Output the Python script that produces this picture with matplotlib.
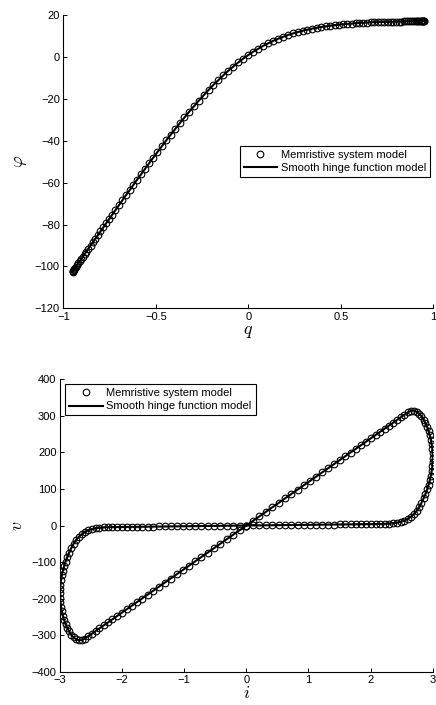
import matplotlib
matplotlib.use('Agg')
import matplotlib.pyplot as plt
import numpy as np

plt.rcParams['font.family'] = ['Liberation Sans', 'DejaVu Sans']
plt.rcParams['mathtext.fontset'] = 'cm'

# ---- flux-charge curve (top) ----
q_neg = [-0.950, -0.949, -0.947, -0.944, -0.940, -0.936, -0.931, -0.925, -0.919, -0.912,
         -0.904, -0.895, -0.885, -0.875, -0.864, -0.853, -0.840, -0.827, -0.813, -0.799,
         -0.784, -0.769, -0.753, -0.736, -0.718, -0.700, -0.681, -0.662, -0.642, -0.622,
         -0.601, -0.580, -0.558, -0.536, -0.514, -0.491, -0.467, -0.443, -0.419, -0.395,
         -0.370, -0.345, -0.319, -0.294, -0.268, -0.242, -0.215, -0.189, -0.162, -0.135,
         -0.108, -0.081, -0.054, -0.027]
phi_neg = [-102.5, -102.4, -102.1, -101.7, -101.2, -100.7, -100.1, -99.3, -98.5, -97.6,
           -96.6, -95.5, -94.2, -92.9, -91.5, -90.1, -88.5, -86.8, -85.1, -83.3,
           -81.4, -79.5, -77.5, -75.4, -73.1, -70.9, -68.5, -66.1, -63.7, -61.2,
           -58.6, -56.1, -53.4, -50.8, -48.1, -45.4, -42.6, -39.8, -37.1, -34.4,
           -31.6, -28.9, -26.1, -23.6, -20.9, -18.4, -15.8, -13.4, -11.1, -8.8,
           -6.6, -4.6, -2.6, -0.8]
q_pos = [0.000, 0.027, 0.054, 0.081, 0.108, 0.135, 0.162, 0.189, 0.215, 0.242,
         0.268, 0.294, 0.319, 0.345, 0.370, 0.395, 0.419, 0.443, 0.467, 0.491,
         0.514, 0.536, 0.558, 0.580, 0.601, 0.622, 0.642, 0.662, 0.681, 0.700,
         0.718, 0.736, 0.753, 0.769, 0.784, 0.799, 0.813, 0.827, 0.840, 0.853,
         0.864, 0.875, 0.885, 0.895, 0.904, 0.912, 0.919, 0.925, 0.931, 0.936,
         0.940, 0.944, 0.947, 0.949, 0.950]
phi_pos = [0.9, 2.5, 3.9, 5.3, 6.5, 7.7, 8.7, 9.6, 10.5, 11.2,
           11.9, 12.5, 13.0, 13.5, 13.9, 14.3, 14.6, 14.9, 15.2, 15.4,
           15.6, 15.8, 15.9, 16.1, 16.2, 16.3, 16.4, 16.5, 16.6, 16.6,
           16.7, 16.7, 16.8, 16.8, 16.8, 16.9, 16.9, 16.9, 17.0, 17.0,
           17.0, 17.0, 17.0, 17.0, 17.1, 17.1, 17.1, 17.1, 17.1, 17.1,
           17.1, 17.1, 17.1, 17.1, 17.1]

# ---- pinched hysteresis loop (bottom) ----
i_q1 = [0.000, 0.105, 0.209, 0.314, 0.418, 0.521, 0.624, 0.726, 0.827, 0.927,
        1.026, 1.124, 1.220, 1.315, 1.409, 1.500, 1.590, 1.678, 1.763, 1.847,
        1.928, 2.007, 2.084, 2.158, 2.229, 2.298, 2.364, 2.427, 2.487, 2.544,
        2.598, 2.649, 2.696, 2.741, 2.782, 2.819, 2.853, 2.884, 2.911, 2.934,
        2.954, 2.971, 2.984, 2.993, 2.998, 3.000]
v_q1 = [0.0, 12.5, 24.9, 37.4, 49.7, 62.0, 74.3, 86.4, 98.4, 110.3,
        122.1, 133.8, 145.2, 156.5, 167.7, 178.5, 189.2, 199.7, 209.8, 219.8,
        229.4, 238.8, 248.0, 256.8, 265.3, 273.5, 281.3, 288.8, 296.0, 302.7,
        309.2, 313.9, 314.1, 311.1, 306.0, 298.8, 289.6, 279.7, 269.3, 258.2,
        246.7, 234.7, 222.3, 209.5, 197.9, 186.0]
i_q2 = [2.998, 2.993, 2.984, 2.971, 2.954, 2.934, 2.911, 2.884, 2.853, 2.819,
        2.782, 2.741, 2.696, 2.649, 2.598, 2.544, 2.487, 2.427, 2.364, 2.298,
        2.229, 2.158, 2.084, 2.007, 1.928, 1.847, 1.763, 1.678, 1.590, 1.500,
        1.409, 1.315, 1.220, 1.124, 1.026, 0.927, 0.827, 0.726, 0.624, 0.521,
        0.418, 0.314, 0.209, 0.105, 0.000]
v_q2 = [173.9, 161.6, 149.2, 136.7, 124.1, 111.5, 99.0, 86.5, 74.2, 62.0,
        50.1, 39.7, 31.0, 23.8, 18.2, 13.2, 9.9, 7.8, 6.1, 5.1,
        4.5, 4.1, 4.0, 3.8, 3.7, 3.5, 3.3, 3.2, 3.0, 2.9,
        2.7, 2.5, 2.3, 2.1, 1.9, 1.8, 1.6, 1.4, 1.2, 1.0,
        0.8, 0.6, 0.4, 0.2, 0.0]
i_q3 = [-0.105, -0.209, -0.314, -0.418, -0.521, -0.624, -0.726, -0.827, -0.927, -1.026,
        -1.124, -1.220, -1.315, -1.409, -1.500, -1.590, -1.678, -1.763, -1.847, -1.928,
        -2.007, -2.084, -2.158, -2.229, -2.298, -2.364, -2.427, -2.487, -2.544, -2.598,
        -2.649, -2.696, -2.741, -2.782, -2.819, -2.853, -2.884, -2.911, -2.934, -2.954,
        -2.971, -2.984, -2.993, -2.998]
v_q3 = [-0.2, -0.4, -0.6, -0.8, -1.0, -1.2, -1.4, -1.6, -1.8, -1.9,
        -2.1, -2.3, -2.5, -2.7, -2.9, -3.0, -3.2, -3.3, -3.5, -3.7,
        -3.8, -4.0, -4.1, -4.5, -5.1, -6.1, -7.8, -9.9, -13.2, -18.2,
        -23.8, -31.0, -39.7, -50.1, -62.0, -74.2, -86.5, -99.0, -111.5, -124.1,
        -136.7, -149.2, -161.6, -173.9]
i_q4 = [-3.000, -2.998, -2.993, -2.984, -2.971, -2.954, -2.934, -2.911, -2.884, -2.853,
        -2.819, -2.782, -2.741, -2.696, -2.649, -2.598, -2.544, -2.487, -2.427, -2.364,
        -2.298, -2.229, -2.158, -2.084, -2.007, -1.928, -1.847, -1.763, -1.678, -1.590,
        -1.500, -1.409, -1.315, -1.220, -1.124, -1.026, -0.927, -0.827, -0.726, -0.624,
        -0.521, -0.418, -0.314, -0.209, -0.105, 0.000]
v_q4 = [-186.0, -197.9, -209.5, -222.3, -234.7, -246.7, -258.2, -269.3, -279.7, -289.6,
        -298.8, -306.0, -311.1, -314.1, -313.9, -309.2, -302.7, -296.0, -288.8, -281.3,
        -273.5, -265.3, -256.8, -248.0, -238.8, -229.4, -219.8, -209.8, -199.7, -189.2,
        -178.5, -167.7, -156.5, -145.2, -133.8, -122.1, -110.3, -98.4, -86.4, -74.3,
        -62.0, -49.7, -37.4, -24.9, -12.5, 0.0]

top_xticks = [-1, -0.5, 0, 0.5, 1]
top_xlabels = ['\u22121', '\u22120.5', '0', '0.5', '1']
top_yticks = [-120, -100, -80, -60, -40, -20, 0, 20]
bot_xticks = [-3, -2, -1, 0, 1, 2, 3]
bot_yticks = [-400, -300, -200, -100, 0, 100, 200, 300, 400]

labels = ['Memristive system model', 'Smooth hinge function model']

q = np.array(q_neg + q_pos)
phi = np.array(phi_neg + phi_pos)
cur = np.array(i_q1 + i_q2 + i_q3 + i_q4)
volt = np.array(v_q1 + v_q2 + v_q3 + v_q4)

fig = plt.figure(figsize=(4.36, 7.05), dpi=100)
ax1 = fig.add_axes([0.1452, 0.5627, 0.8486, 0.416])
ax2 = fig.add_axes([0.1376, 0.0472, 0.8548, 0.4148])


def minus(vals):
    return [str(t).replace('-', '\u2212') for t in vals]


def style(ax):
    for s in ['top', 'right']:
        ax.spines[s].set_visible(False)
    for s in ['left', 'bottom']:
        ax.spines[s].set_linewidth(0.8)
    ax.tick_params(direction='in', length=3, width=0.7, labelsize=8, pad=2.5,
                   top=False, right=False)


def draw(ax, x, y):
    ax.plot(x, y, 'o', mfc='none', mec='k', ms=4.8, mew=0.8, label=labels[0])
    ax.plot(x, y, '-', color='k', lw=1.5, label=labels[1])


def add_legend(ax, loc, anchor):
    leg = ax.legend(loc=loc, bbox_to_anchor=anchor, borderaxespad=0,
                    fancybox=False, edgecolor='k', framealpha=1, fontsize=8,
                    handlelength=3.0, handletextpad=0.35, borderpad=0.35,
                    labelspacing=0.3)
    leg.get_frame().set_linewidth(0.8)


draw(ax1, q, phi)
ax1.set_xlim(-1, 1)
ax1.set_ylim(-120, 20)
ax1.set_xticks(top_xticks)
ax1.set_xticklabels(top_xlabels)
ax1.set_yticks(top_yticks)
ax1.set_yticklabels(minus(top_yticks))
style(ax1)
ax1.set_xlabel(r'$q$', fontsize=13, labelpad=1)
ax1.set_ylabel(r'$\varphi$', fontsize=13, labelpad=4)
add_legend(ax1, 'upper right', (0.991, 0.554))

draw(ax2, cur, volt)
ax2.set_xlim(-3, 3)
ax2.set_ylim(-400, 400)
ax2.set_xticks(bot_xticks)
ax2.set_xticklabels(minus(bot_xticks))
ax2.set_yticks(bot_yticks)
ax2.set_yticklabels(minus(bot_yticks))
style(ax2)
ax2.set_xlabel(r'$i$', fontsize=13, labelpad=0)
ax2.set_ylabel(r'$v$', fontsize=13, labelpad=4)
add_legend(ax2, 'upper left', (0.0142, 0.983))

fig.savefig('out.png', dpi=100)
